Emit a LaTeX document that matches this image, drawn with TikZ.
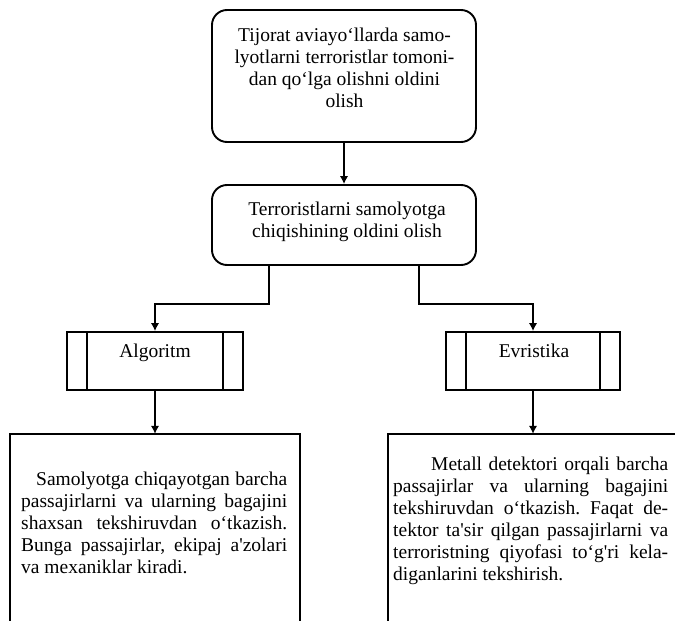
\documentclass[tikz,border=0pt]{standalone}
\usepackage{fontspec}
\setmainfont{Liberation Serif}[Ligatures=TeXOff]
\usetikzlibrary{arrows.meta}
\tikzset{
  ln/.style={line width=1.9pt},
  rbox/.style={ln, draw, rounded corners=15pt, minimum width=264pt, inner sep=0pt},
  pbox/.style={ln, draw, minimum width=176pt, minimum height=58pt, inner sep=0pt},
  obox/.style={draw=none, minimum width=290pt, minimum height=187pt, inner sep=0pt},
  arr/.style={ln, -{Latex[length=8pt,width=8.5pt]}},
  txt/.style={inner sep=0pt, font=\fontsize{19.5}{22}\selectfont}
}
\begin{document}
\frenchspacing
\begin{tikzpicture}[x=1pt,y=-1pt]
\useasboundingbox (0,0) rectangle (675,621);
% boxes
\node[rbox, minimum height=132pt] (top) at (344,76) {};
\node[rbox, minimum height=80pt] (mid) at (344,225) {};
\node[pbox] (alg) at (155,361) {};
\node[pbox, minimum width=174pt] (evr) at (533,361) {};
\node[obox] (lbox) at (155,527.5) {};
\node[obox] (rbox) at (533,527.5) {};
% inner lines of process boxes
\draw[ln] ([xshift=21pt]alg.north west) -- ([xshift=21pt]alg.south west);
\draw[ln] ([xshift=-21pt]alg.north east) -- ([xshift=-21pt]alg.south east);
\draw[ln] ([xshift=21pt]evr.north west) -- ([xshift=21pt]evr.south west);
\draw[ln] ([xshift=-21pt]evr.north east) -- ([xshift=-21pt]evr.south east);
% open boxes
\draw[ln] (lbox.south west) -- (lbox.north west) -- (lbox.north east) -- (lbox.south east);
\draw[ln] (rbox.south west) -- (rbox.north west) -- ([xshift=5pt]rbox.north east);
% connectors
\draw[arr] (top.south) -- (mid.north);
\draw[arr] ([xshift=58pt]mid.south west) -- ++(0,38) -| (alg.north);
\draw[arr] ([xshift=-58pt]mid.south east) -- ++(0,38) -| (evr.north);
\draw[arr] (alg.south) -- (alg.south |- lbox.north);
\draw[arr] (evr.south) -- (evr.south |- rbox.north);
% texts
\node[txt, anchor=base] (t1) at (344.5,41.5) {\parbox[t]{263pt}{\centering Tijorat aviayo‘llarda samo-\\lyotlarni terroristlar tomoni-\\dan qo‘lga olishni oldini\\olish}};
\node[txt, anchor=base] (t2) at (347,215.5) {\parbox[t]{263pt}{\centering Terroristlarni samolyotga\\chiqishining oldini olish}};
\node[txt, anchor=base] (t3) at (155,357) {Algoritm};
\node[txt, anchor=base] (t4) at (534,357) {Evristika};
\node[txt, anchor=base west] (t5) at (21,485.5) {\parbox[t]{266pt}{\setlength\parindent{15pt}\indent Samolyotga chiqayotgan barcha\linebreak passajirlarni va ularning bagajini\linebreak shaxsan tekshiruvdan o‘tkazish.\linebreak Bunga passajirlar, ekipaj a'zolari\linebreak va mexaniklar kiradi.}};
\node[txt, anchor=base west] (t6) at (393,470) {\parbox[t]{275pt}{\setlength\parindent{38pt}\indent Metall detektori orqali barcha\linebreak passajirlar va ularning bagajini\linebreak tekshiruvdan o‘tkazish. Faqat de-\linebreak tektor ta'sir qilgan passajirlarni va\linebreak terroristning qiyofasi to‘g'ri kela-\linebreak diganlarini tekshirish.}};
\end{tikzpicture}
\end{document}
